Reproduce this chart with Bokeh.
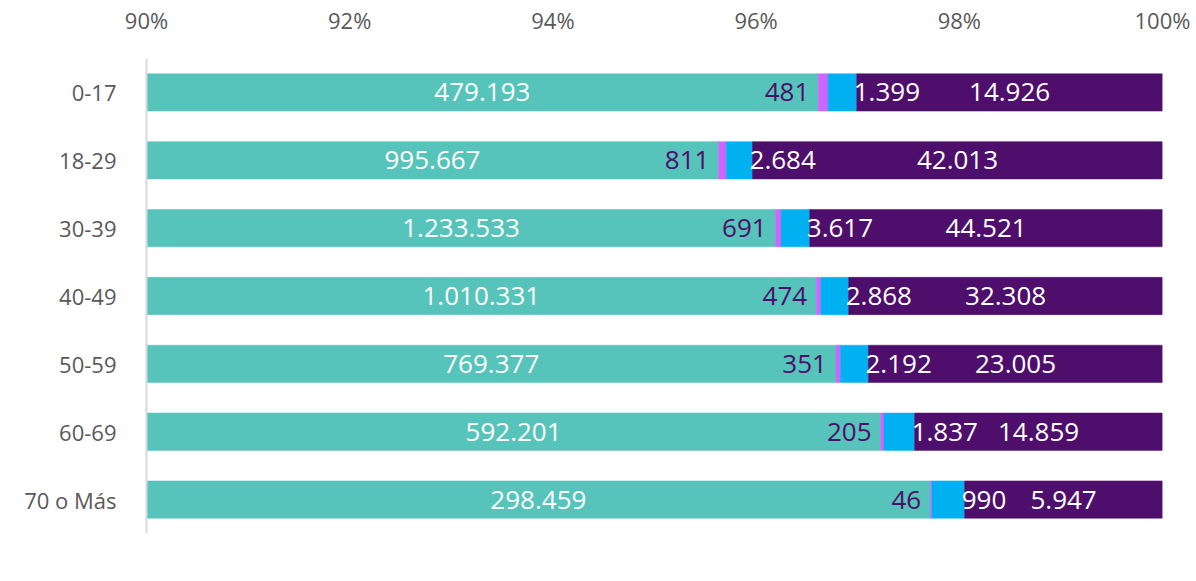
from bokeh.plotting import figure
from bokeh.models import (ColumnDataSource, Range1d, FactorRange, FixedTicker,
                          Legend, LegendItem, CustomJSTickFormatter)
from bokeh.core.properties import value
from bokeh.embed import file_html
from bokeh.resources import INLINE

categories = ["0-17", "18-29", "30-39", "40-49", "50-59", "60-69", "70 o Más"]
aereo = [479193, 995667, 1233533, 1010331, 769377, 592201, 298459]
fluvial = [481, 811, 691, 474, 351, 205, 46]
maritimo = [1399, 2684, 3617, 2868, 2192, 1837, 990]
terrestre = [14926, 42013, 44521, 32308, 23005, 14859, 5947]
series = ["Aereo", "Fluvial", "Marítimo", "Terrestre"]
colors = ["#56C4BA", "#CC66FF", "#00B0F0", "#4E0E6B"]
x_ticks = [0.90, 0.92, 0.94, 0.96, 0.98, 1.00]

FONT = "Open Sans"


def fmt(n):
    return f"{n:,}".replace(",", ".")


tot = [a + f + m + t for a, f, m, t in zip(aereo, fluvial, maritimo, terrestre)]
a_end = [a / s for a, s in zip(aereo, tot)]
f_end = [(a + f) / s for a, f, s in zip(aereo, fluvial, tot)]
m_end = [(a + f + m) / s for a, f, m, s in zip(aereo, fluvial, maritimo, tot)]
t_end = [1.0 for _ in tot]
starts = [[0.0] * len(tot), a_end, f_end, m_end]
ends = [a_end, f_end, m_end, t_end]

src = ColumnDataSource(dict(
    cat=categories,
    a0=starts[0], a1=ends[0], f0=starts[1], f1=ends[1],
    m0=starts[2], m1=ends[2], t0=starts[3], t1=ends[3],
    a_lab=[fmt(v) for v in aereo], f_lab=[fmt(v) for v in fluvial],
    m_lab=[fmt(v) for v in maritimo], t_lab=[fmt(v) for v in terrestre],
    a_x=[(0.9 + e) / 2 for e in a_end],
    t_x=[(m + 1.0) / 2 for m in m_end],
))

p = figure(frame_width=1016, frame_height=475, output_backend="svg", toolbar_location=None,
           x_range=Range1d(0.9, 1.0), y_range=FactorRange(*reversed(categories)),
           x_axis_location="above")
p.min_border_left = 146
p.min_border_right = 34
p.min_border_top = 58
p.min_border_bottom = 0
p.outline_line_color = None
p.grid.visible = False

p.y_range.range_padding = 0
p.y_range.factor_padding = 0

renderers = []
keys = [("a0", "a1"), ("f0", "f1"), ("m0", "m1"), ("t0", "t1")]
for (k0, k1), c in zip(keys, colors):
    r = p.hbar(y="cat", left=k0, right=k1, height=0.55, source=src,
               fill_color=c, line_color=c, line_width=0.5)
    renderers.append(r)

LS = "26px"
p.text(x="a_x", y="cat", text="a_lab", source=src, text_color="white",
       text_align="center", text_baseline="middle", text_font=value(FONT), text_font_size=LS)
p.text(x="a1", y="cat", text="f_lab", source=src, text_color="#4E0E6B", x_offset=-9,
       text_align="right", text_baseline="middle", text_font=value(FONT), text_font_size=LS)
p.text(x="m1", y="cat", text="m_lab", source=src, text_color="white", x_offset=-3,
       text_align="left", text_baseline="middle", text_font=value(FONT), text_font_size=LS)
p.text(x="t_x", y="cat", text="t_lab", source=src, text_color="white",
       text_align="center", text_baseline="middle", text_font=value(FONT), text_font_size=LS)

xa = p.xaxis[0]
xa.ticker = FixedTicker(ticks=x_ticks)
xa.formatter = CustomJSTickFormatter(code="return Math.round(tick*100) + '%';")
xa.axis_line_color = None
xa.major_tick_line_color = None
xa.minor_tick_line_color = None
xa.major_label_text_font = FONT
xa.major_label_text_font_size = "22px"
xa.major_label_text_color = "#595959"
xa.major_label_standoff = 18

ya = p.yaxis[0]
ya.axis_line_color = "#D9D9D9"
ya.axis_line_width = 2
ya.major_tick_line_color = None
ya.minor_tick_line_color = None
ya.major_label_text_font = FONT
ya.major_label_text_font_size = "22px"
ya.major_label_text_color = "#595959"
ya.major_label_standoff = 24

legend = Legend(items=[LegendItem(label=s, renderers=[r]) for s, r in zip(series, renderers)],
                location="center", orientation="horizontal")
legend.label_text_font = FONT
legend.label_text_font_size = "26px"
legend.label_text_color = "#595959"
legend.glyph_width = 15
legend.glyph_height = 15
legend.label_standoff = 6
legend.spacing = 58
legend.padding = 0
legend.margin = 6
legend.border_line_color = None
legend.background_fill_alpha = 0
p.add_layout(legend, "below")

open("out.html", "w").write(file_html(p, INLINE))
